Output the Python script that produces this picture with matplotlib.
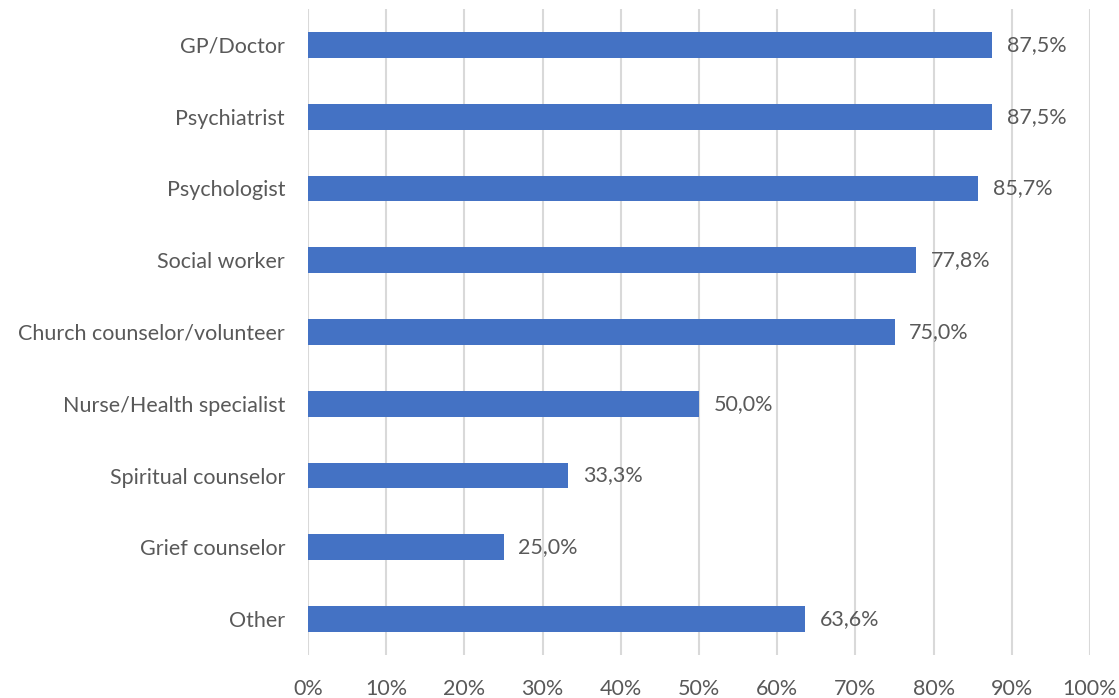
import matplotlib.pyplot as plt

categories = ["GP/Doctor", "Psychiatrist", "Psychologist", "Social worker",
              "Church counselor/volunteer", "Nurse/Health specialist",
              "Spiritual counselor", "Grief counselor", "Other"]
values = [87.5, 87.5, 85.7, 77.8, 75.0, 50.0, 33.3, 25.0, 63.6]

text_color = "#595959"
plt.rcParams['font.family'] = ['Lato', 'DejaVu Sans']

fig = plt.figure(figsize=(11.19, 6.98), dpi=100)
ax = fig.add_axes([308/1119, 1 - 655/698, (1090 - 308)/1119, (655 - 9)/698])

pos = list(range(len(categories)))
ax.barh(pos, values, height=0.36, color="#4472C4", zorder=3)

for p, v in zip(pos, values):
    ax.text(v + 1.9, p, f"{v:.1f}%".replace(".", ","), va="center", ha="left",
            fontsize=15.5, color=text_color)

ax.set_xlim(0, 100)
ax.set_ylim(len(categories) - 0.5, -0.5)
ax.set_xticks(range(0, 101, 10))
ax.set_xticklabels([f"{t}%" for t in range(0, 101, 10)])
ax.set_yticks(pos)
ax.set_yticklabels(categories)
ax.tick_params(axis="both", length=0, labelsize=15.5, colors=text_color)
ax.tick_params(axis="x", pad=17)
ax.tick_params(axis="y", pad=16.5)
ax.grid(axis="x", color="#d9d9d9", linewidth=1.5, zorder=0)
for s in ax.spines.values():
    s.set_visible(False)

fig.savefig("out.png", dpi=100)
